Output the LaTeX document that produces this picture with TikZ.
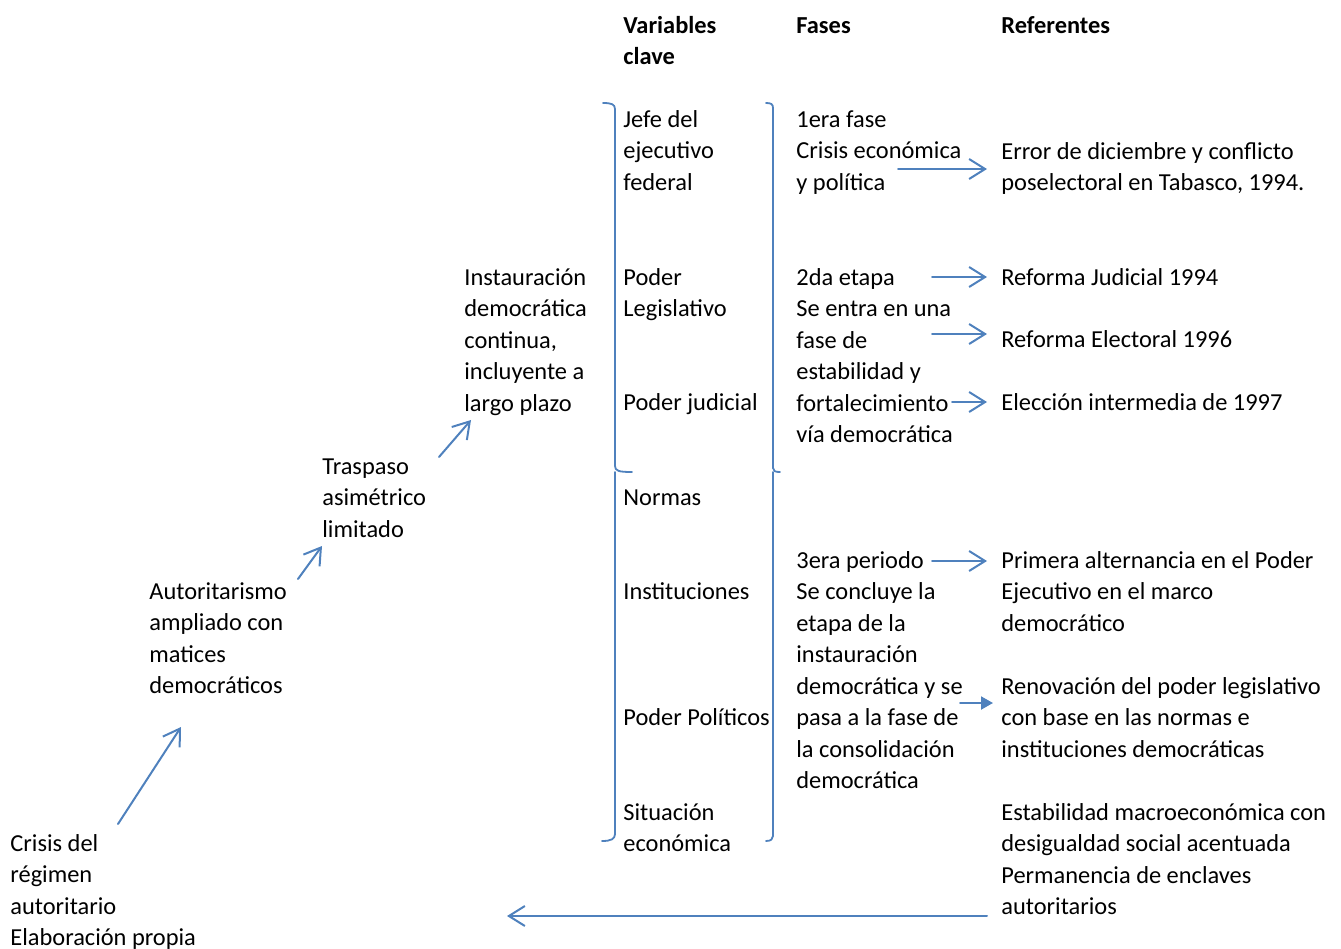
\documentclass[tikz,border=0pt]{standalone}
\usepackage{fontspec}
\setmainfont{Carlito}
\usetikzlibrary{arrows.meta}
\definecolor{azul}{RGB}{79,129,189}

\begin{document}
\begin{tikzpicture}[line cap=round,line join=round,x=0.5pt,y=-0.5pt,
  txt/.style={anchor=base west,inner sep=0pt,align=left,font=\fontsize{12.2}{15.75}\selectfont},
  hdr/.style={txt,font=\fontsize{12.2}{15.75}\selectfont\bfseries},
  flecha/.style={draw=azul,line width=1pt,-{Straight Barb[length=8pt,width=10pt]}},
  flechallena/.style={draw=azul,line width=1pt,-{Triangle[length=6pt,width=6.5pt]}},
  corchete/.style={draw=azul,line width=0.9pt}]
\useasboundingbox (0,0) rectangle (1341,949);
% encabezados (base en la ultima linea)
\node[hdr] (hvar) at (623,64.5) {Variables\\clave};
\node[hdr] (hfases) at (796,33) {Fases};
\node[hdr] (href) at (1001,33) {Referentes};
% variables clave
\node[txt] (jefe) at (623,190) {Jefe del\\ejecutivo\\federal};
\node[txt] (legis) at (623,316.5) {Poder\\Legislativo};
\node[txt] (judicial) at (623,410) {Poder judicial};
\node[txt] (normas) at (623,505) {Normas};
\node[txt] (inst) at (623,599) {Instituciones};
\node[txt] (politicos) at (623,725) {Poder Políticos};
\node[txt] (situacion) at (623,851.5) {Situación\\económica};
% fases
\node[txt] (fase1) at (796,190) {1era fase\\Crisis económica\\y política};
\node[txt] (fase2) at (796,442.5) {2da etapa\\Se entra en una\\fase de\\estabilidad y\\fortalecimiento\\vía democrática};
\node[txt] (fase3) at (796,788.5) {3era periodo\\Se concluye la\\etapa de la\\instauración\\democrática y se\\pasa a la fase de\\la consolidación\\democrática};
% referentes
\node[txt] (rerror) at (1001,190.5) {Error de diciembre y conflicto\\poselectoral en Tabasco, 1994.};
\node[txt] (rjud) at (1001,285) {Reforma Judicial 1994};
\node[txt] (relec) at (1001,347) {Reforma Electoral 1996};
\node[txt] (rinter) at (1001,410) {Elección intermedia de 1997};
\node[txt] (ralt) at (1001,631) {Primera alternancia en el Poder\\Ejecutivo en el marco\\democrático};
\node[txt] (rrenov) at (1001,757) {Renovación del poder legislativo\\con base en las normas e\\instituciones democráticas};
\node[txt] (restab) at (1001,914.5) {Estabilidad macroeconómica con\\desigualdad social acentuada\\Permanencia de enclaves\\autoritarios};
% escalera
\node[txt] (instaur) at (464,411) {Instauración\\democrática\\continua,\\incluyente a\\largo plazo};
\node[txt] (traspaso) at (322,537) {Traspaso\\asimétrico\\limitado};
\node[txt] (autorit) at (149,693.5) {Autoritarismo\\ampliado con\\matices\\democráticos};
\node[txt] (crisis) at (10,945.5) {Crisis del\\régimen\\autoritario\\Elaboración propia};
% corchetes
\draw[corchete] (603,103) .. controls (611,103) and (615,104) .. (615,109) -- (615,466)
  .. controls (615,471) and (619,472) .. (632,472);
\draw[corchete] (615,472) -- (615,834) .. controls (615,839) and (611,841) .. (602,841);
\draw[corchete] (766,103) .. controls (771,103) and (773,104) .. (773,108) -- (773,468)
  .. controls (773,471) and (775,472) .. (780,472);
\draw[corchete] (773,472) -- (773,836) .. controls (773,839) and (771,841) .. (766,841);
% flechas
\coordinate (e1) at (118,824);
\coordinate (e2) at (181,727);
\coordinate (e3) at (298,579);
\coordinate (e4) at (322,546);
\coordinate (e5) at (439,457);
\coordinate (e6) at (471,420);
\coordinate (f1) at (898,169);
\coordinate (f2) at (932,277);
\coordinate (f3) at (932,334);
\coordinate (f4) at (952,402);
\coordinate (f5) at (932,561);
\coordinate (f6) at (960,703);
\coordinate (f7) at (987,916);
\coordinate (f8) at (507,916);
\draw[flecha] (e1) -- (e2);
\draw[flecha] (e3) -- (e4);
\draw[flecha] (e5) -- (e6);
\draw[flecha] (f1) -- (f1 -| 987,0);
\draw[flecha] (f2) -- (f2 -| 987,0);
\draw[flecha] (f3) -- (f3 -| 987,0);
\draw[flecha] (f4) -- (f4 -| 987,0);
\draw[flecha] (f5) -- (f5 -| 987,0);
\draw[flechallena] (f6) -- (f6 -| 993,0);
\draw[flecha] (f7) -- (f8);
\end{tikzpicture}
\end{document}
